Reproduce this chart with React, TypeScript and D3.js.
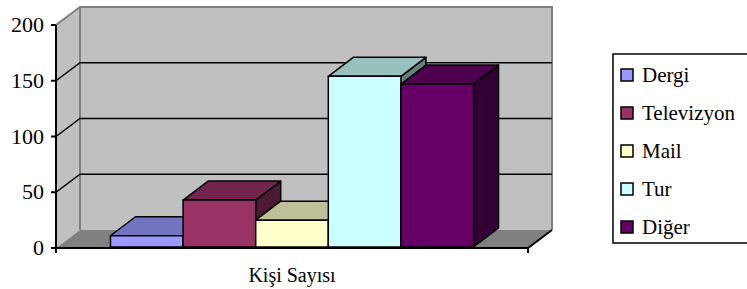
import * as d3 from 'd3';

const category = "Kişi Sayısı";
const seriesNames = ["Dergi", "Televizyon", "Mail", "Tur", "Diğer"];
const seriesValues = [11, 43, 25, 154, 147];
const seriesColors = ["#9999FF", "#993366", "#FFFFCC", "#CCFFFF", "#660066"];
const yTicks = [0, 50, 100, 150, 200];

const width = 747;
const height = 289;
const plot = { left: 56, right: 528, top: 25, bottom: 248 };
const depth = { dx: 24, dy: -18 };
const barDepth = { dx: 25, dy: -19 };

const shade = (c: string, k: number) => {
  const col = d3.rgb(c);
  return d3.rgb(col.r * k, col.g * k, col.b * k).formatHex();
};

const pts = (arr: [number, number][]) => arr.map(p => p.join(",")).join(" ");

export default function App() {
  const y = d3.scaleLinear().domain([0, 200]).range([plot.bottom, plot.top]);
  const x = d3.scaleBand<string>()
    .domain(seriesNames)
    .range([plot.left, plot.right])
    .paddingInner(0)
    .paddingOuter(0.75);

  const bx0 = plot.left + depth.dx;
  const bx1 = plot.right + depth.dx;
  const by = (v: number) => y(v) + depth.dy;

  const legend = { x: 613, y: 54, w: 150, h: 189, row: 38 };

  return (
    <svg width={width} height={height} style={{ position: 'absolute', left: 0, top: 0 }}>
      {/* walls */}
      <polygon points={pts([[bx0, by(200)], [bx1, by(200)], [bx1, by(0)], [bx0, by(0)]])} fill="#C0C0C0" />
      <polygon points={pts([[plot.left, y(0)], [plot.left, y(200)], [bx0, by(200)], [bx0, by(0)]])} fill="#C0C0C0" />
      <polygon points={pts([[plot.left, y(0)], [plot.right, y(0)], [bx1, by(0)], [bx0, by(0)]])} fill="#808080" />
      <polyline points={pts([[plot.left, y(200)], [bx0, by(200)], [bx1, by(200)], [bx1, by(0)]])} fill="none" stroke="#808080" strokeWidth={2} />
      <line x1={bx0} x2={bx0} y1={by(200)} y2={by(0)} stroke="#808080" strokeWidth={2} />

      {/* gridlines */}
      {yTicks.filter(t => t > 0 && t < 200).map(t => (
        <polyline key={t} points={pts([[plot.left, y(t)], [bx0, by(t)], [bx1, by(t)]])} fill="none" stroke="#000" strokeWidth={1.5} />
      ))}

      {/* bars */}
      {seriesNames.map((s, i) => {
        const x0 = x(s)!;
        const x1 = x0 + x.bandwidth();
        const top = y(seriesValues[i]);
        const base = y(0) - 1;
        const c = seriesColors[i];
        return (
          <g key={s} stroke="#000" strokeWidth={1.5} strokeLinejoin="round">
            <polygon points={pts([[x1, base], [x1 + barDepth.dx, base + barDepth.dy], [x1 + barDepth.dx, top + barDepth.dy], [x1, top]])} fill={shade(c, 0.5)} />
            <polygon points={pts([[x0, top], [x1, top], [x1 + barDepth.dx, top + barDepth.dy], [x0 + barDepth.dx, top + barDepth.dy]])} fill={shade(c, 0.75)} />
            <rect x={x0} y={top} width={x1 - x0} height={base - top} fill={c} />
          </g>
        );
      })}

      {/* axes */}
      <line x1={plot.left} x2={plot.left} y1={y(200)} y2={y(0)} stroke="#000" strokeWidth={2} />
      <polyline points={pts([[plot.left, y(0)], [plot.right, y(0)], [bx1, by(0)]])} fill="none" stroke="#000" strokeWidth={2} />
      <line x1={plot.left} x2={plot.left} y1={y(0)} y2={y(0) + 5} stroke="#000" strokeWidth={2} />
      <line x1={plot.right} x2={plot.right} y1={y(0)} y2={y(0) + 5} stroke="#000" strokeWidth={2} />
      {yTicks.map(t => (
        <g key={t}>
          <line x1={plot.left - 5} x2={plot.left} y1={y(t)} y2={y(t)} stroke="#000" strokeWidth={2} />
          <text x={44} y={y(t) + 7} textAnchor="end" fontFamily="Times New Roman" fontSize={22}>{t}</text>
        </g>
      ))}
      <text x={(plot.left + plot.right) / 2} y={282} textAnchor="middle" fontFamily="serif" fontSize={20}>{category}</text>

      {/* legend */}
      <rect x={legend.x} y={legend.y} width={legend.w} height={legend.h} fill="#fff" stroke="#000" strokeWidth={1.5} />
      {seriesNames.map((s, i) => {
        const cy = legend.y + 21 + i * legend.row;
        return (
          <g key={s}>
            <rect x={legend.x + 8} y={cy - 6} width={12} height={12} fill={seriesColors[i]} stroke="#000" strokeWidth={1.5} />
            <text x={legend.x + 29} y={cy + 7} style={{ fontFamily: 'Liberation Serif', fontSize: 21 }}>{s}</text>
          </g>
        );
      })}
    </svg>
  );
}
